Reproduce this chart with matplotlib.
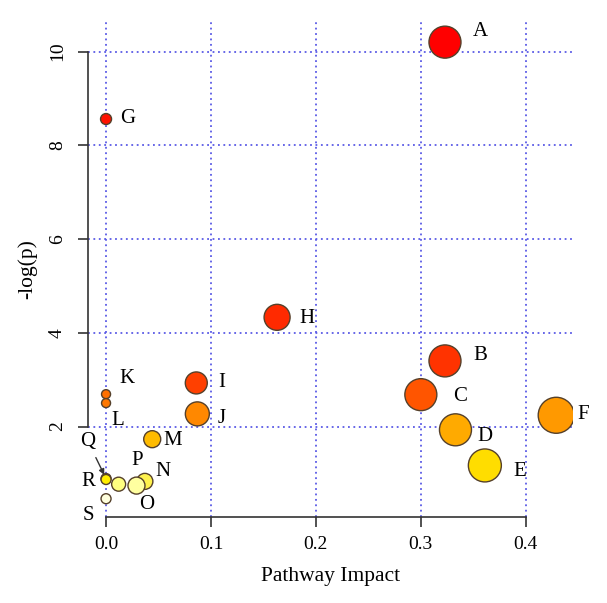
import matplotlib
matplotlib.use("Agg")
import matplotlib.pyplot as plt

# ---------------------------------------------------------------------------
# Dados
# ---------------------------------------------------------------------------

rotulos = ["A", "B", "C", "D", "E", "F", "G", "H", "I", "J",
           "K", "L", "M", "N", "O", "P", "Q", "R", "S"]
impacto = [0.323, 0.323, 0.300, 0.333, 0.361, 0.429, 0.0, 0.163, 0.086, 0.087,
           0.0, 0.0, 0.044, 0.037, 0.029, 0.012, 0.0, 0.0, 0.0]
menos_log_p = [10.20, 3.40, 2.68, 1.93, 1.17, 2.24, 8.56, 4.33, 2.93, 2.27,
               2.69, 2.50, 1.73, 0.83, 0.74, 0.77, 0.89, 0.87, 0.46]
cores = ["#FF0000", "#FF3300", "#FF5500", "#FFAA00", "#FFDD00", "#FF9900",
         "#FF1100", "#FF2A00", "#FF4000", "#FF8800", "#FF7000", "#FF7700",
         "#FFBB00", "#FFF24D", "#FFFFA0", "#FFFF80", "#FFEE00", "#FFEE00",
         "#FFFFDD"]

x_ticks = [0.0, 0.1, 0.2, 0.3, 0.4]
y_ticks = [2, 4, 6, 8, 10]

# ---------------------------------------------------------------------------
# Estilo
# ---------------------------------------------------------------------------

raio_px = [16, 16, 16, 16, 16.5, 18, 5.5, 13, 11, 12,
           4.5, 4.5, 8.5, 8, 8.5, 7, 5, 5, 5]
# deslocamento dos rotulos em pixels (dx, dy)
desloc = {
    "A": (35, 11), "B": (35, 5), "C": (39, -2), "D": (29, -7), "E": (35, -6),
    "F": (27, 1), "G": (22, 1), "H": (30, -1), "I": (25, 0), "J": (24, -5),
    "K": (21, 16), "L": (12, -17), "M": (20, -1), "N": (18, 10), "O": (10, -19),
    "P": (19, 24), "Q": (-18, 37), "R": (-18, -2), "S": (-18, -17),
}

plt.rcParams["font.family"] = ["Liberation Serif", "DejaVu Serif"]

fig = plt.figure(figsize=(6.07, 6.03), dpi=100)
ax = fig.add_axes([88 / 607, 1 - 517 / 603, 485 / 607, 495 / 603])

ax.set_xlim(-0.0172, 0.445)
ax.set_ylim(0.07, 10.63)

for v in x_ticks:
    ax.axvline(v, color="#5a5ae6", ls=(0, (1, 2)), lw=1.3, zorder=0)
for v in y_ticks:
    ax.axhline(v, color="#5a5ae6", ls=(0, (1, 2)), lw=1.3, zorder=0)

tam = [(2 * r * 0.72) ** 2 for r in raio_px]
ax.scatter(impacto, menos_log_p, s=tam, c=cores, edgecolors="#55402a",
           linewidths=1.0, zorder=3)

for lab, x, y in zip(rotulos, impacto, menos_log_p):
    dx, dy = desloc[lab]
    if lab == "Q":
        ax.annotate(lab, xy=(x, y), xytext=(dx * 0.72, dy * 0.72),
                    textcoords="offset points", ha="center", va="center",
                    fontsize=15,
                    arrowprops=dict(arrowstyle="-|>", color="#333333", lw=1.0,
                                    shrinkA=3, shrinkB=3, mutation_scale=8))
    else:
        ax.annotate(lab, xy=(x, y), xytext=(dx * 0.72, dy * 0.72),
                    textcoords="offset points", ha="center", va="center",
                    fontsize=15)

for lado in ["top", "right"]:
    ax.spines[lado].set_visible(False)
ax.spines["left"].set_bounds(y_ticks[0], y_ticks[-1])
ax.spines["bottom"].set_bounds(x_ticks[0], x_ticks[-1])
for lado in ["left", "bottom"]:
    ax.spines[lado].set_color("#333333")
    ax.spines[lado].set_linewidth(1.2)

ax.set_xticks(x_ticks, [f"{v:.1f}" for v in x_ticks])
ax.set_yticks(y_ticks, [str(v) for v in y_ticks])
ax.tick_params(axis="both", direction="out", length=7, width=1.2,
               color="#333333", labelsize=14)
ax.tick_params(axis="x", pad=7)
ax.tick_params(axis="y", pad=9)
for t in ax.get_yticklabels():
    t.set_rotation(90)
    t.set_va("center")

ax.set_xlabel("Pathway Impact", fontsize=15.5, labelpad=10)
ax.set_ylabel("-log(p)", fontsize=15.5, labelpad=8)

fig.savefig("out.png", dpi=100)
